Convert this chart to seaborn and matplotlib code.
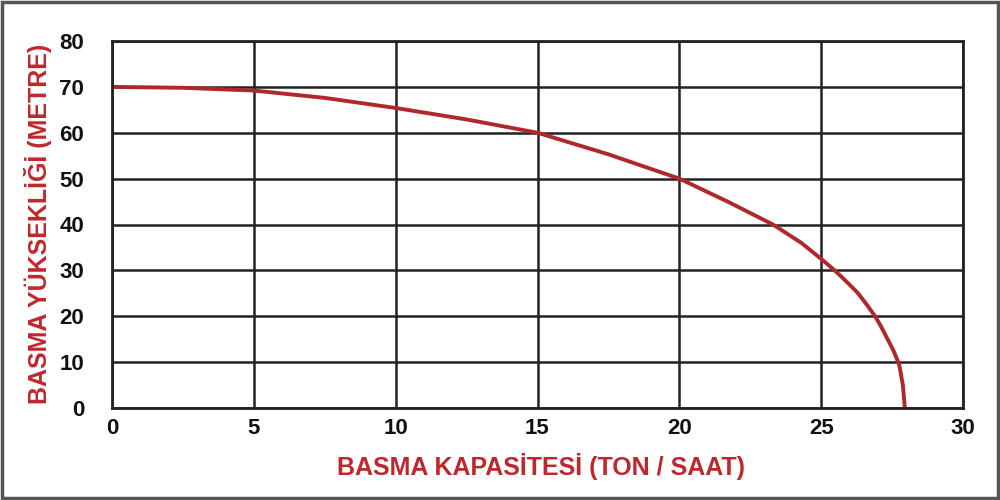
import matplotlib
matplotlib.use("Agg")
import matplotlib.pyplot as plt
import seaborn as sns
import pandas as pd
from matplotlib.patches import Rectangle

# Data
capacity = [0, 2.5, 5, 7.5, 10, 12.5, 15, 17.5, 20, 21.7, 23.3, 24.3, 25, 25.4, 25.7,
            26.0, 26.3, 26.6, 26.9, 27.1, 27.3, 27.55, 27.75, 27.88, 27.95]
head = [70, 69.8, 69.2, 67.6, 65.4, 62.9, 60.0, 55.3, 50.0, 45.0, 40.0, 36.0, 32.5, 30.4, 28.7,
        26.9, 25.0, 22.6, 20.0, 17.9, 15.5, 12.5, 9.5, 5.0, 0.0]
x_ticks = [0, 5, 10, 15, 20, 25, 30]
y_ticks = [0, 10, 20, 30, 40, 50, 60, 70, 80]
x_label = "BASMA KAPASİTESİ (TON / SAAT)"
y_label = "BASMA YÜKSEKLİĞİ (METRE)"

df = pd.DataFrame({"capacity": capacity, "head": head})

sns.set_style("white")
plt.rcParams["font.family"] = ["Liberation Sans", "DejaVu Sans"]

fig = plt.figure(figsize=(10, 5), dpi=100)
ax = fig.add_axes([0.112, 0.184, 0.851, 0.734])

sns.lineplot(data=df, x="capacity", y="head", ax=ax, color="#b0282b",
             linewidth=2.8, sort=False, estimator=None)
ax.lines[0].set_solid_joinstyle("round")
ax.lines[0].set_solid_capstyle("round")

ax.set_xlim(0, 30)
ax.set_ylim(0, 80)
ax.set_xticks(x_ticks)
ax.set_yticks(y_ticks)
ax.grid(True, color="#222222", linewidth=1.8)
ax.set_axisbelow(True)
for s in ax.spines.values():
    s.set_visible(True)
    s.set_color("#222222")
    s.set_linewidth(2.0)
ax.tick_params(axis="x", length=0, labelsize=16, colors="#111111", pad=7)
ax.tick_params(axis="y", length=0, labelsize=16, colors="#111111", pad=20)
for lab in ax.get_xticklabels() + ax.get_yticklabels():
    lab.set_fontweight("bold")

ax.set_xlabel("")
ax.set_ylabel("")
fig.text(0.541, 0.066, x_label, ha="center", va="center", fontsize=18,
         fontweight="bold", color="#c0272d")
fig.text(0.038, 0.552, y_label, ha="center", va="center", rotation=90,
         fontsize=18, fontweight="bold", color="#c0272d")

fig.patches.append(Rectangle((0.002, 0.004), 0.996, 0.992, transform=fig.transFigure,
                             fill=False, edgecolor="#555555", linewidth=2.5))

fig.savefig("out.png", dpi=100, facecolor="white")
